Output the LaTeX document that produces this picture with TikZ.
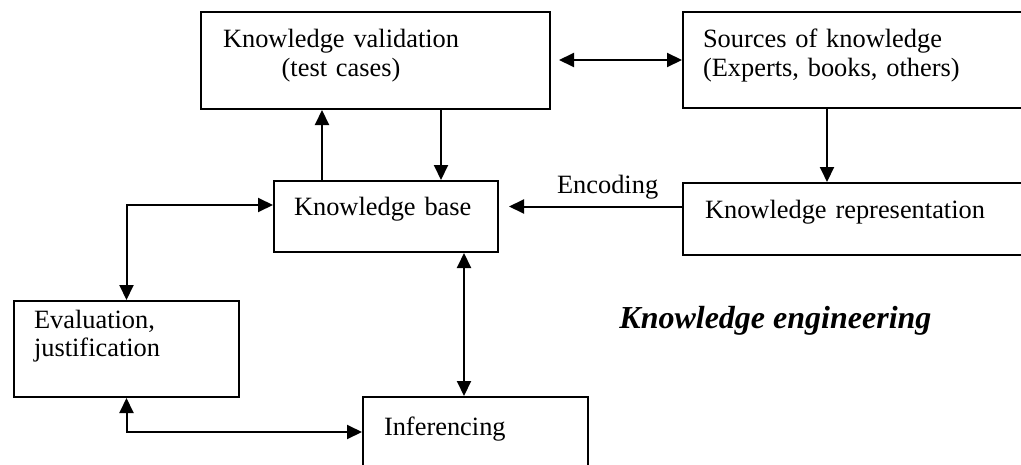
\documentclass[tikz,border=0pt]{standalone}
\usepackage{fontspec}
\setmainfont{Liberation Serif}
\usetikzlibrary{positioning, arrows.meta}

\begin{document}
\begin{tikzpicture}[x=0.5pt, y=-0.5pt,
  font=\fontsize{13.2}{14}\selectfont,
  block/.style={draw, line width=1pt, anchor=north west, align=left,
    inner ysep=0pt},
  link/.style={line width=1pt, -{Triangle[length=7.5pt,width=7pt]}},
  twoway/.style={line width=1pt,
    {Triangle[length=7.5pt,width=7pt]}-{Triangle[length=7.5pt,width=7pt]}}]
  \useasboundingbox (0,0) rectangle (1021,465);
  \clip (0,0) rectangle (1021,465);

  % boxes
  \node[block, inner xsep=11pt, text width=152.5pt, text height=18pt,
    text depth=30.5pt] (val) at (200,11)
    {\begin{tabular}[t]{@{}c@{}}Knowledge validation\\(test cases)\end{tabular}};
  \node[block, inner xsep=10pt, text width=200pt, text height=18pt,
    text depth=30pt, right=65.5pt of val.north east, anchor=north west] (src)
    {Sources of knowledge\\(Experts, books, others)};
  \node[block, inner xsep=11pt, text width=198pt, text height=17.5pt,
    text depth=18.5pt, below=36.5pt of src.south west, anchor=north west] (kr)
    {Knowledge representation};
  \node[block, inner xsep=10pt, text width=92pt, text height=17pt,
    text depth=18.5pt] (kb) at (273,180) {Knowledge base};
  \node[block, inner xsep=10pt, text width=92.5pt, text height=13.5pt,
    text depth=34.5pt] (eval) at (13,300) {Evaluation,\\justification};
  \node[block, inner xsep=10.5pt, text width=91.5pt, text height=19pt,
    text depth=43pt] (inf) at (362,396) {Inferencing};
  \node[anchor=base west, inner sep=0pt,
    font=\fontsize{16}{19}\selectfont\bfseries\itshape] (title) at (619,328)
    {Knowledge engineering};

  % connectors
  \draw[twoway] ([xshift=4pt]val.east |- src.west) -- (src.west);
  \draw[link] ([xshift=27.5pt]kb.north |- val.south) -- ([xshift=27.5pt]kb.north);
  \draw[link] ([xshift=-32pt]kb.north) -- ([xshift=-32pt]kb.north |- val.south);
  \draw[link] (src.south west) ++(72.5pt,0) coordinate (srcdown)
    -- (srcdown |- kr.north);
  \draw[link] ([yshift=6.25pt]kr.west) -- ([xshift=5pt,yshift=6.25pt]kb.east |- kr.west)
    node[above, pos=0.43] {Encoding};
  \draw[twoway] (eval.north) |- ([yshift=5.75pt]kb.west);
  \draw[twoway] ([xshift=39pt]kb.south) -- ([xshift=39pt]kb.south |- inf.north);
  \draw[twoway] (eval.south) |- ([yshift=-18pt]inf.north west);
\end{tikzpicture}
\end{document}
